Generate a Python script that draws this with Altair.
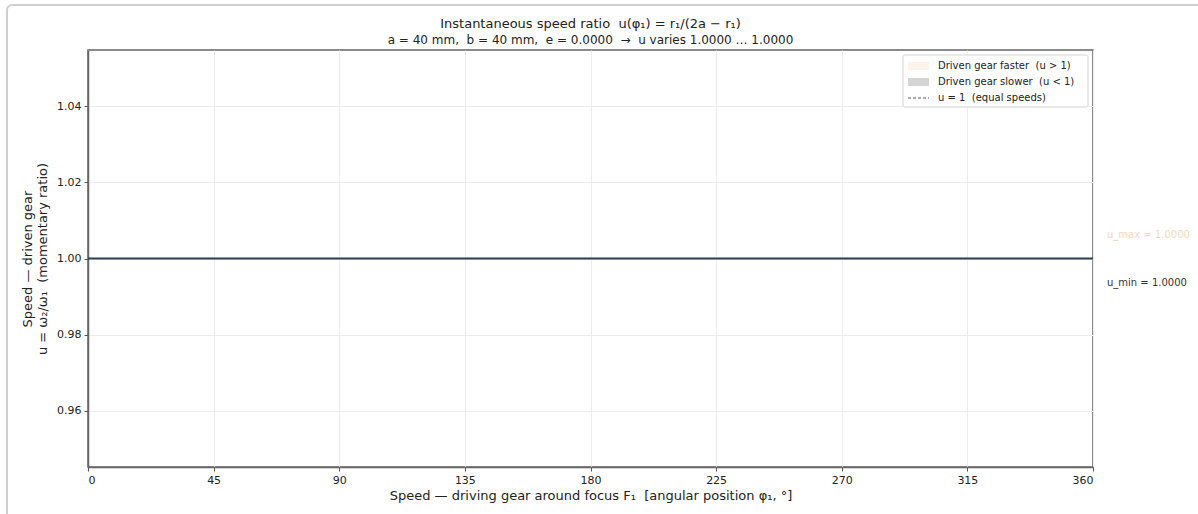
import altair as alt
import pandas as pd

NB = "\u00a0"
FONT = "DejaVu Sans"

# ---- data ----
phi_deg = [0, 45, 90, 135, 180, 225, 270, 315, 360]
u_ratio = [1.0, 1.0, 1.0, 1.0, 1.0, 1.0, 1.0, 1.0, 1.0]
x_ticks = [0, 45, 90, 135, 180, 225, 270, 315, 360]
y_ticks = [0.96, 0.98, 1.00, 1.02, 1.04]
y_domain = [0.9453, 1.0547]
u_max = 1.0
u_min = 1.0
title_lines = [
    "Instantaneous speed ratio  u(φ₁) = r₁/(2a − r₁)",
    "a = 40 mm,  b = 40 mm,  e = 0.0000  →  u varies 1.0000 … 1.0000",
]
title_sizes = [13, 12]
x_title = "Speed — driving gear around focus F₁  [angular position φ₁, °]"
y_title = ["Speed — driven gear", "u = ω₂/ω₁  (momentary ratio)"]
legend_labels = ["Driven gear faster  (u > 1)", "Driven gear slower  (u < 1)", "u = 1  (equal speeds)"]
legend_colors = ["#fcf3ea", "#d4d4d4", "#555555"]


def keep_spaces(s):
    return s.replace("  ", " " + NB)


W, H = 1005, 417
df = pd.DataFrame({"phi": phi_deg, "u": u_ratio})

x_enc = alt.X("phi:Q", scale=alt.Scale(domain=[0, 360], nice=False),
              axis=alt.Axis(values=x_ticks, format="d", title=keep_spaces(x_title)))
y_enc = alt.Y("u:Q", scale=alt.Scale(domain=y_domain, nice=False, zero=False),
              axis=alt.Axis(values=y_ticks, format=".2f", title=[keep_spaces(t) for t in y_title]))

base = alt.Chart(df)
faster = base.mark_area(color=legend_colors[0], opacity=0.9).encode(x=x_enc, y=y_enc, y2=alt.datum(1.0))
ref = base.mark_rule(strokeDash=[4, 3], color="#555555", strokeWidth=1).encode(y=alt.datum(1.0))
line = base.mark_line(color="#2c3e50", strokeWidth=2).encode(x=x_enc, y=y_enc)

ann_max = alt.Chart(pd.DataFrame({"label": [f"u_max = {u_max:.4f}"], "u": [u_max]})).mark_text(
    align="left", baseline="middle", dy=-24, fontSize=10, font=FONT, color="#efd9bd", clip=False
).encode(x=alt.value(W + 14), y=alt.Y("u:Q", scale=alt.Scale(domain=y_domain)), text="label:N")
ann_min = alt.Chart(pd.DataFrame({"label": [f"u_min = {u_min:.4f}"], "u": [u_min]})).mark_text(
    align="left", baseline="middle", dy=24, fontSize=10, font=FONT, color="#333333", clip=False
).encode(x=alt.value(W + 14), y=alt.Y("u:Q", scale=alt.Scale(domain=y_domain)), text="label:N")

one = pd.DataFrame({"a": [0]})
frame = alt.Chart(one).mark_rect(fill=None, stroke="#cfcfcf", strokeWidth=2, cornerRadius=5, clip=False).encode(
    x=alt.value(-81), x2=alt.value(W + 150), y=alt.value(-45), y2=alt.value(H + 80))

title_layers = []
for i, t in enumerate(title_lines):
    title_layers.append(alt.Chart(pd.DataFrame({"t": [keep_spaces(t)]})).mark_text(
        align="center", baseline="alphabetic", fontSize=title_sizes[i], font=FONT, color="#222222", clip=False).encode(
        x=alt.value(W / 2), y=alt.value(-22 + 16 * i), text="t:N"))

leg_layers = [alt.Chart(one).mark_rect(fill="white", stroke="#d0d0d0", strokeWidth=1, cornerRadius=2, opacity=0.9).encode(
    x=alt.value(815), x2=alt.value(1000), y=alt.value(5), y2=alt.value(57))]
rows = [16, 32, 48]
for i, lab in enumerate(legend_labels):
    r = rows[i]
    if i < 2:
        leg_layers.append(alt.Chart(one).mark_rect(fill=legend_colors[i]).encode(
            x=alt.value(820), x2=alt.value(841), y=alt.value(r - 4), y2=alt.value(r + 4)))
    else:
        leg_layers.append(alt.Chart(one).mark_rule(color=legend_colors[i], strokeDash=[3, 2], strokeWidth=1).encode(
            x=alt.value(820), x2=alt.value(841), y=alt.value(r)))
    leg_layers.append(alt.Chart(pd.DataFrame({"t": [keep_spaces(lab)]})).mark_text(
        align="left", baseline="middle", fontSize=10, font=FONT, color="#222222").encode(
        x=alt.value(850), y=alt.value(r), text="t:N"))

chart = alt.layer(frame, faster, ref, line, ann_max, ann_min, *title_layers, *leg_layers).properties(
    width=W, height=H,
    autosize=alt.AutoSizeParams(type="none"),
    padding={"left": 88, "top": 50, "right": 105, "bottom": 47},
).configure(font=FONT).configure_text(font=FONT).configure_axis(
    labelFont=FONT, titleFont=FONT,
    labelFontSize=11, labelColor="#222222", titleFontSize=13, titleFontWeight="normal",
    titleColor="#222222", tickColor="#555555", domainColor="#666666", domainWidth=1.5,
    gridColor="#ececec", tickSize=4, labelPadding=3,
).configure_axisY(titlePadding=7).configure_axisX(titlePadding=4).configure_view(
    stroke="#666666", strokeWidth=1.5
)

chart.save("out.html", embed_options={"renderer": "svg", "actions": False})
